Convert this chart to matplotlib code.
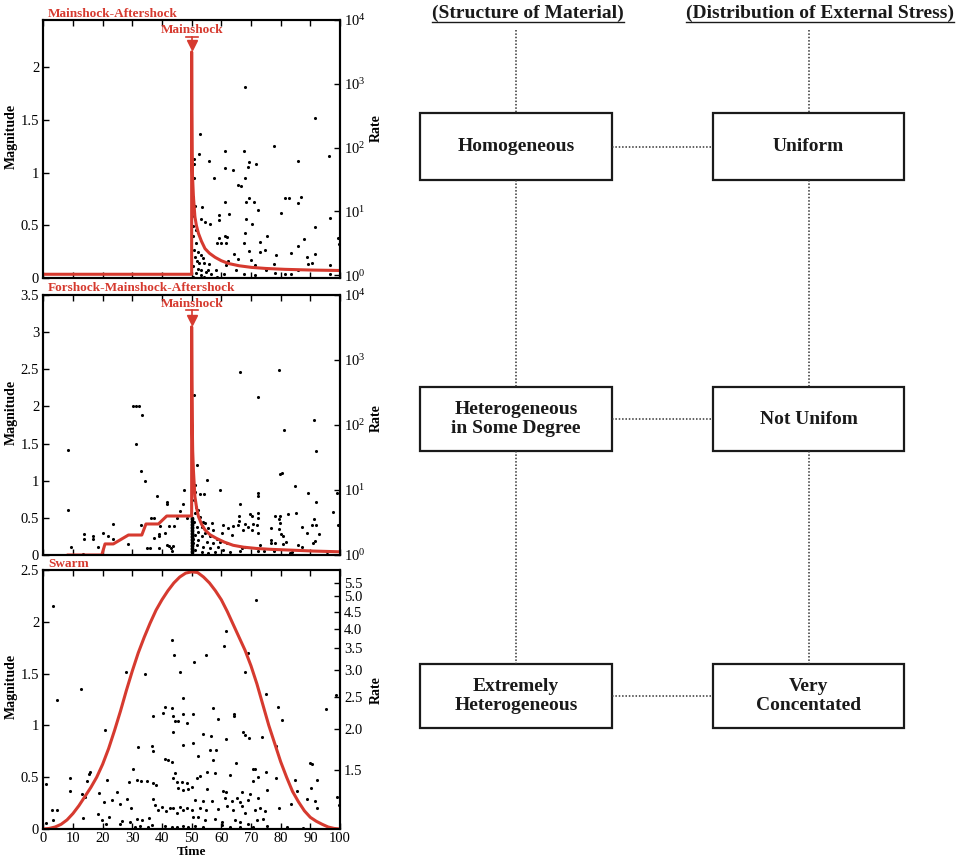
import matplotlib
matplotlib.use("Agg")
import matplotlib.pyplot as plt
import matplotlib.transforms as mtransforms
from matplotlib.patches import Rectangle
from matplotlib.ticker import NullLocator

plt.rcParams['font.family'] = ['Liberation Serif', 'DejaVu Serif']
plt.rcParams['mathtext.fontset'] = 'stix'

RED = '#d63a2f'

# ---- data ----
mainshock_t = 50

# top panel: mainshock-aftershock
top_events = [
    (68.1, 1.81), (91.5, 1.52), (52.8, 1.365), (77.6, 1.25), (61.4, 1.21), (67.8, 1.21), (96.4, 1.16),
    (52.6, 1.18), (55.7, 1.11), (85.9, 1.11), (69.3, 1.10), (71.6, 1.08), (69.0, 1.05), (61.4, 1.04),
    (64.1, 1.03), (50.9, 1.13), (50.9, 1.08), (57.4, 0.95), (67.9, 0.95), (65.5, 0.885), (66.8, 0.87),
    (50.9, 0.95), (69.4, 0.76), (81.4, 0.76), (82.8, 0.76), (86.8, 0.77), (68.3, 0.72), (71.0, 0.72),
    (61.4, 0.72), (85.7, 0.71), (72.2, 0.65), (53.4, 0.67), (80.1, 0.62), (59.2, 0.60), (62.6, 0.61),
    (96.5, 0.57), (68.4, 0.56), (59.1, 0.55), (53.1, 0.56), (54.6, 0.53), (56.3, 0.51), (70.3, 0.51),
    (91.5, 0.48), (67.9, 0.43), (75.3, 0.40), (61.4, 0.40), (61.9, 0.39), (59.2, 0.38), (99.4, 0.38),
    (88.0, 0.37), (67.8, 0.335), (73.1, 0.34), (58.4, 0.33), (60.0, 0.33), (61.6, 0.33), (85.9, 0.30),
    (99.6, 0.32), (69.4, 0.26), (74.6, 0.27), (73.2, 0.25), (83.4, 0.24), (64.2, 0.23), (78.4, 0.22),
    (91.7, 0.23), (89.0, 0.20), (65.5, 0.18), (70.1, 0.17), (62.1, 0.16), (90.7, 0.14), (89.3, 0.13),
    (96.6, 0.12), (77.9, 0.13), (61.5, 0.12), (71.2, 0.12), (65.1, 0.08), (58.2, 0.08), (75.2, 0.08),
    (85.9, 0.08), (96.7, 0.04), (83.6, 0.04), (81.4, 0.04), (78.0, 0.05), (71.4, 0.03), (67.8, 0.04),
    (61.0, 0.04), (58.7, 0.01), (50.3, 0.49), (51.4, 0.46), (50.6, 0.40), (51.4, 0.33), (50.9, 0.27),
    (52.0, 0.25), (53.0, 0.22), (51.2, 0.20), (53.8, 0.19), (51.7, 0.16), (52.5, 0.14), (54.2, 0.14),
    (50.6, 0.11), (52.2, 0.09), (53.3, 0.08), (54.8, 0.06), (51.4, 0.05), (55.6, 0.08), (56.5, 0.04),
    (53.1, 0.03), (50.3, 0.01), (54.3, 0.01), (55.9, 0.13), (50.9, 0.59), (51.1, 0.68), (50.4, 0.77),
]
top_rate_t = [0, 50.0, 50.0, 50.05, 50.15, 50.3, 50.6, 51.1, 51.6, 52.3, 53.3, 54.5, 56.0, 57.9,
              60.0, 62.4, 66.0, 70.2, 75.0, 81.5, 90.0, 100]
top_rate = [1.03, 1.03, 3160, 400, 80, 35, 17, 8.2, 6.0, 4.5, 3.4, 2.6, 2.2, 1.9,
            1.68, 1.52, 1.40, 1.32, 1.27, 1.23, 1.20, 1.18]

# middle panel: foreshock-mainshock-aftershock
mid_events = [
    (30.1, 2.0), (31.1, 2.0), (32.2, 2.0), (33.2, 1.89), (8.4, 1.42), (31.1, 1.49), (32.9, 1.13),
    (34.3, 0.99), (38.2, 0.79), (41.6, 0.71), (41.6, 0.68), (47.4, 0.88), (47.2, 0.69), (46.1, 0.59),
    (8.4, 0.61), (36.2, 0.50), (37.3, 0.50), (45.2, 0.50), (48.3, 0.50), (32.9, 0.41), (23.4, 0.42),
    (42.5, 0.39), (44.1, 0.39), (39.3, 0.39), (41.0, 0.29), (39.1, 0.28), (13.8, 0.28), (20.0, 0.29),
    (16.9, 0.25), (16.9, 0.21), (13.8, 0.21), (23.5, 0.22), (21.7, 0.25), (18.5, 0.11), (9.2, 0.11),
    (37.3, 0.23), (39.1, 0.25), (28.7, 0.15), (34.8, 0.09), (36.0, 0.09), (39.1, 0.10), (41.6, 0.14),
    (42.2, 0.12), (43.1, 0.10), (43.8, 0.12), (43.3, 0.05), (13.5, 0.01),
    (66.3, 2.47), (79.4, 2.49), (72.3, 2.13), (91.1, 1.82), (81.1, 1.68), (91.9, 1.40), (79.8, 1.09),
    (80.4, 1.10), (50.8, 2.15), (51.7, 1.21), (55.1, 1.01), (84.8, 0.93), (59.6, 0.87), (89.3, 0.84),
    (98.9, 0.84), (72.3, 0.84), (72.3, 0.79), (52.8, 0.82), (54.2, 0.82), (66.3, 0.69), (91.9, 0.72),
    (97.5, 0.58), (69.7, 0.55), (70.2, 0.53), (72.3, 0.56), (72.3, 0.50), (66.1, 0.52), (66.1, 0.46),
    (78.1, 0.52), (79.8, 0.52), (79.5, 0.49), (79.8, 0.43), (82.6, 0.55), (85.2, 0.56), (91.1, 0.49),
    (90.7, 0.41), (91.9, 0.40), (99.2, 0.40), (60.7, 0.40), (62.4, 0.36), (64.0, 0.39), (65.7, 0.40),
    (68.0, 0.42), (69.1, 0.38), (70.8, 0.42), (71.9, 0.40), (70.2, 0.33), (72.3, 0.30), (67.4, 0.33),
    (60.2, 0.29), (63.5, 0.27), (76.7, 0.36), (79.5, 0.35), (87.1, 0.38), (89.0, 0.29), (93.0, 0.28),
    (80.0, 0.28), (80.9, 0.26), (91.6, 0.19), (91.0, 0.16), (76.7, 0.20), (76.7, 0.16), (86.0, 0.14),
    (87.1, 0.11), (78.2, 0.16), (80.8, 0.15), (81.9, 0.17), (66.3, 0.05), (66.9, 0.09), (68.0, 0.11),
    (73.1, 0.13), (74.4, 0.06), (72.3, 0.05), (77.6, 0.05), (83.8, 0.04), (83.2, 0.03), (95.6, 0.04),
    (51.1, 0.94), (51.1, 0.85), (50.8, 0.74), (51.5, 0.65), (52.3, 0.61), (51.1, 0.56), (52.8, 0.51),
    (50.8, 0.45), (53.9, 0.45), (51.7, 0.38), (53.4, 0.38), (55.6, 0.36), (52.3, 0.31), (54.5, 0.29),
    (57.3, 0.34), (51.1, 0.27), (53.4, 0.25), (56.2, 0.25), (58.4, 0.22), (52.3, 0.20), (55.1, 0.18),
    (57.3, 0.16), (59.6, 0.18), (51.7, 0.135), (53.9, 0.11), (56.2, 0.09), (59.0, 0.11), (51.1, 0.07),
    (53.4, 0.045), (55.6, 0.03), (57.9, 0.045), (60.7, 0.07), (63.0, 0.045), (61.8, 0.16), (54.5, 0.425),
    (50.3, 0.16), (50.3, 0.22), (56.8, 0.425),
]
# dense stack of events right at the mainshock time
mid_stack_mag = [0.0, 0.02, 0.04, 0.06, 0.08, 0.10, 0.12, 0.14, 0.16, 0.18, 0.20, 0.22, 0.24, 0.26,
                 0.28, 0.30, 0.32, 0.34, 0.36, 0.38, 0.40, 0.42, 0.44, 0.46, 0.48, 0.50]
mid_rate_t = [8.4, 19.7, 20.8, 23.6, 28.7, 33.2, 34.6, 38.8, 41.6, 50.0, 50.0, 50.08, 50.2, 50.35,
              50.6, 51.1, 51.7, 52.3, 53.3, 54.5, 56.2, 58.4, 61.0, 64.0, 67.5, 71.9, 77.0, 83.2,
              91.0, 100]
mid_rate = [1.0, 1.0, 1.48, 1.48, 2.03, 2.03, 3.0, 3.0, 3.98, 3.98, 3240, 500, 110, 40,
            20, 7.9, 5.2, 3.9, 3.0, 2.43, 2.05, 1.80, 1.58, 1.41, 1.32, 1.26, 1.22, 1.19,
            1.15, 1.12]

# bottom panel: swarm
bot_events = [
    (3.2, 2.15), (12.6, 1.35), (4.7, 1.25), (27.9, 1.52), (34.2, 1.50), (43.5, 1.82), (44.1, 1.68),
    (50.8, 1.61), (46.0, 1.52), (47.1, 1.26), (41.0, 1.18), (43.3, 1.17), (50.4, 1.11),
    (61.6, 1.91), (60.9, 1.77), (54.8, 1.68), (68.9, 1.70), (68.0, 1.52), (71.6, 2.21), (75.0, 1.30),
    (98.5, 1.29), (79.2, 1.18), (57.1, 1.17), (95.2, 1.16), (64.4, 1.11),
    (20.8, 0.96), (37.1, 1.09), (40.5, 1.12), (43.6, 1.09), (44.4, 1.04), (45.5, 1.04), (47.2, 1.11),
    (48.3, 1.02), (43.6, 0.94), (47.2, 0.81), (50.6, 0.83), (31.8, 0.79), (30.1, 0.58), (36.5, 0.80),
    (36.9, 0.75), (41.0, 0.68), (42.1, 0.67), (43.3, 0.65), (15.7, 0.55), (15.5, 0.53), (14.6, 0.46),
    (9.0, 0.49), (9.0, 0.37), (13.0, 0.34), (14.1, 0.31), (21.6, 0.47), (29.0, 0.45), (31.7, 0.47),
    (32.9, 0.46), (34.8, 0.46), (37.1, 0.44), (38.0, 0.42), (44.4, 0.54), (43.8, 0.49), (45.0, 0.45),
    (45.5, 0.40), (46.6, 0.45), (47.0, 0.38), (48.3, 0.44), (48.9, 0.39), (50.0, 0.41), (24.7, 0.36),
    (28.1, 0.29), (18.8, 0.35), (20.5, 0.26), (23.3, 0.28), (25.8, 0.24), (2.8, 0.18), (4.5, 0.18),
    (0.9, 0.43), (3.4, 0.09), (0.9, 0.06), (13.3, 0.11), (18.6, 0.14), (19.7, 0.09), (22.3, 0.12),
    (21.1, 0.05), (26.4, 0.08), (29.5, 0.20), (31.5, 0.10), (33.2, 0.09), (35.7, 0.11), (36.5, 0.04),
    (37.1, 0.29), (37.7, 0.23), (38.8, 0.18), (39.9, 0.21), (41.4, 0.17), (42.7, 0.20), (43.8, 0.20),
    (45.0, 0.15), (46.1, 0.21), (47.2, 0.18), (48.3, 0.20), (50.0, 0.18), (50.6, 0.12), (30.9, 0.02),
    (32.6, 0.03), (35.4, 0.02), (41.0, 0.03), (43.3, 0.02), (45.0, 0.02), (47.2, 0.03), (48.9, 0.02),
    (25.8, 0.05), (29.2, 0.07),
    (64.3, 1.09), (80.3, 1.05), (59.0, 1.06), (53.9, 0.92), (56.5, 0.90), (61.5, 0.87), (67.4, 0.94),
    (68.0, 0.91), (69.4, 0.88), (73.6, 0.89), (78.4, 0.80), (52.3, 0.70), (56.2, 0.76), (58.2, 0.76),
    (57.3, 0.67), (65.0, 0.64), (89.9, 0.64), (90.5, 0.63), (51.7, 0.49), (52.8, 0.51), (55.1, 0.55),
    (57.9, 0.54), (62.9, 0.52), (70.8, 0.58), (71.3, 0.58), (70.6, 0.46), (75.1, 0.55), (72.5, 0.50),
    (78.4, 0.49), (84.8, 0.47), (92.4, 0.47), (90.1, 0.40), (85.4, 0.37), (55.3, 0.39), (60.7, 0.37),
    (61.6, 0.36), (66.9, 0.36), (69.7, 0.34), (75.3, 0.38), (51.1, 0.28), (53.9, 0.27), (56.8, 0.27),
    (61.3, 0.30), (63.5, 0.27), (65.2, 0.30), (66.3, 0.26), (69.1, 0.28), (72.5, 0.30), (88.8, 0.29),
    (91.6, 0.27), (99.0, 0.31), (99.6, 0.23), (83.5, 0.24), (79.6, 0.20), (92.1, 0.20), (52.8, 0.20),
    (54.8, 0.18), (58.8, 0.19), (61.8, 0.22), (64.1, 0.18), (66.9, 0.22), (68.0, 0.15), (71.3, 0.18),
    (73.0, 0.20), (74.7, 0.17), (52.3, 0.12), (54.5, 0.09), (57.9, 0.10), (60.1, 0.07), (64.6, 0.09),
    (66.3, 0.07), (69.1, 0.05), (71.9, 0.09), (74.1, 0.10), (75.3, 0.03), (51.1, 0.03), (53.9, 0.02),
    (60.1, 0.04), (62.9, 0.02), (66.3, 0.02), (70.8, 0.02), (82.0, 0.02), (87.6, 0.01),
]
bot_rate_t = [0, 2, 4, 6, 8, 10, 12, 14, 16, 18, 20, 22, 24, 26, 28, 30, 32, 34, 36, 38, 40, 42, 44,
              46, 48, 50, 52, 54, 56, 58, 60, 62, 64, 66, 68, 70, 72, 74, 76, 78, 80, 82, 84, 86,
              88, 90, 92, 94, 96, 98, 100]
bot_rate = [1.0, 1.004, 1.014, 1.033, 1.065, 1.113, 1.175, 1.251, 1.332, 1.431, 1.565, 1.743,
            1.976, 2.259, 2.608, 2.984, 3.382, 3.765, 4.155, 4.545, 4.884, 5.199, 5.486, 5.717,
            5.873, 5.925, 5.897, 5.717, 5.486, 5.199, 4.884, 4.505, 4.118, 3.765, 3.443, 3.092,
            2.728, 2.363, 2.048, 1.806, 1.593, 1.431, 1.297, 1.207, 1.134, 1.084, 1.055, 1.033,
            1.014, 1.004, 1.0]
swarm_rate_ticks = [1.5, 2.0, 2.5, 3.0, 3.5, 4.0, 4.5, 5.0, 5.5]

# right-hand diagram
headers = ['(Structure of Material)', '(Distribution of External Stress)']
material = ['Homogeneous', 'Heterogeneous\nin Some Degree', 'Extremely\nHeterogeneous']
stress = ['Uniform', 'Not Unifom', 'Very\nConcentated']

# ---- figure ----
W, H = 957, 856
fig = plt.figure(figsize=(W / 100, H / 100), dpi=100)


def px_axes(left, top, right, bottom):
    return fig.add_axes([left / W, 1 - bottom / H, (right - left) / W, (bottom - top) / H])


def style(ax, ax2):
    for a in (ax, ax2):
        for s in a.spines.values():
            s.set_linewidth(1.5)
    ax.tick_params(direction='in', top=True, length=4, width=1, labelsize=10.5, pad=3)
    ax2.tick_params(direction='in', length=4, width=1, labelsize=10.5, pad=3)
    ax2.yaxis.set_minor_locator(NullLocator())
    ax.set_xlim(0, 100)
    ax.set_xticks(range(0, 101, 10))
    ax.set_ylabel('Magnitude', fontweight='bold', fontsize=10)
    ax.yaxis.set_label_coords(-0.085, 0.55)


def mark_mainshock(ax, y_text, y_bar, y_tri):
    tr = mtransforms.blended_transform_factory(ax.transData, ax.transAxes)
    ax.text(mainshock_t, y_text, 'Mainshock', transform=tr, ha='center', va='center',
            color=RED, fontweight='bold', fontsize=9.5)
    ax.plot([mainshock_t - 2, mainshock_t + 2], [y_bar, y_bar], transform=tr, color=RED, lw=1.2,
            clip_on=False)
    ax.plot([mainshock_t, mainshock_t], [y_bar, y_tri], transform=tr, color=RED, lw=1.2, clip_on=False)
    ax.plot([mainshock_t], [y_tri], 'v', transform=tr, color=RED, ms=7, clip_on=False)


def title(ax, text, y):
    ax.text(0.016, y, text, transform=ax.transAxes, color=RED, fontweight='bold', fontsize=9.5,
            ha='left', va='center')


# top panel
ax_t = px_axes(43.3, 20, 340, 278)
ax_t2 = ax_t.twinx()
ax_t.scatter([e[0] for e in top_events], [e[1] for e in top_events], s=5, c='black', lw=0)
ax_t2.plot(top_rate_t, top_rate, color=RED, lw=2.2)
ax_t.set_ylim(0, 2.45)
ax_t.set_yticks([0, 0.5, 1, 1.5, 2])
ax_t.set_yticklabels(['0', '0.5', '1', '1.5', '2'])
ax_t2.set_yscale('log')
ax_t2.set_ylim(0.9, 1e4)
ax_t2.set_yticks([1, 10, 100, 1000, 10000])
style(ax_t, ax_t2)
ax_t.tick_params(labelbottom=False)
ax_t2.set_ylabel('Rate', fontweight='bold', fontsize=10, rotation=90)
ax_t2.yaxis.set_label_coords(1.1, 0.58)
title(ax_t, 'Mainshock-Aftershock', 1.023)
mark_mainshock(ax_t, 0.962, 0.934, 0.905)

# middle panel
ax_m = px_axes(43.3, 295, 340, 555)
ax_m2 = ax_m.twinx()
ax_m.scatter([e[0] for e in mid_events], [e[1] for e in mid_events], s=5, c='black', lw=0)
ax_m.scatter([mainshock_t] * len(mid_stack_mag), mid_stack_mag, s=7, c='black', lw=0)
ax_m2.plot(mid_rate_t, mid_rate, color=RED, lw=2.2)
ax_m.set_ylim(0, 3.5)
ax_m.set_yticks([0, 0.5, 1, 1.5, 2, 2.5, 3, 3.5])
ax_m.set_yticklabels(['0', '0.5', '1', '1.5', '2', '2.5', '3', '3.5'])
ax_m2.set_yscale('log')
ax_m2.set_ylim(1, 1e4)
ax_m2.set_yticks([1, 10, 100, 1000, 10000])
style(ax_m, ax_m2)
ax_m.tick_params(labelbottom=False)
ax_m2.set_ylabel('Rate', fontweight='bold', fontsize=10, rotation=90)
ax_m2.yaxis.set_label_coords(1.1, 0.527)
title(ax_m, 'Forshock-Mainshock-Aftershock', 1.026)
mark_mainshock(ax_m, 0.965, 0.942, 0.904)

# bottom panel
ax_b = px_axes(43.3, 570, 340, 829)
ax_b2 = ax_b.twinx()
ax_b.scatter([e[0] for e in bot_events], [e[1] for e in bot_events], s=5, c='black', lw=0)
ax_b2.plot(bot_rate_t, bot_rate, color=RED, lw=2.2)
ax_b.set_ylim(0, 2.5)
ax_b.set_yticks([0, 0.5, 1, 1.5, 2, 2.5])
ax_b.set_yticklabels(['0', '0.5', '1', '1.5', '2', '2.5'])
ax_b2.set_yscale('log')
ax_b2.set_ylim(1, 6.0)
ax_b2.set_yticks(swarm_rate_ticks)
ax_b2.set_yticklabels(['%.1f' % v for v in swarm_rate_ticks])
style(ax_b, ax_b2)
ax_b.tick_params(axis='x', pad=2)
ax_b.set_xlabel('Time', fontweight='bold', fontsize=9.5)
ax_b.xaxis.set_label_coords(0.5, -0.065)
ax_b2.set_ylabel('Rate', fontweight='bold', fontsize=10, rotation=90)
ax_b2.yaxis.set_label_coords(1.1, 0.537)
title(ax_b, 'Swarm', 1.023)

# ---- diagram on the right, in figure pixels ----
dax = fig.add_axes([0, 0, 1, 1], zorder=-1)
dax.set_xlim(0, W)
dax.set_ylim(H, 0)
dax.axis('off')

col_x = [(420, 612), (713, 904)]
row_y = [(113, 180), (387, 451), (664, 728)]
header_cx = [528, 820]
dot = dict(color='#333333', lw=1.1, ls=(0, (1, 1.2)))

for j, labels in enumerate([material, stress]):
    x0, x1 = col_x[j]
    cx = (x0 + x1) / 2
    dax.plot([cx, cx], [30, row_y[0][0]], **dot)
    for i, lab in enumerate(labels):
        y0, y1 = row_y[i]
        dax.add_patch(Rectangle((x0, y0), x1 - x0, y1 - y0, fill=False, lw=1.6, ec='#1a1a1a'))
        dax.text(cx, (y0 + y1) / 2, lab, ha='center', va='center', fontweight='bold',
                 fontsize=14, linespacing=1.15, color='#1a1a1a')
        if i < len(labels) - 1:
            dax.plot([cx, cx], [y1, row_y[i + 1][0]], **dot)

for y0, y1 in row_y:
    dax.plot([col_x[0][1], col_x[1][0]], [(y0 + y1) / 2] * 2, **dot)

header_texts = []
for hx, h in zip(header_cx, headers):
    header_texts.append(dax.text(hx, 13, h, ha='center', va='center', fontweight='bold',
                                 fontsize=14, color='#1a1a1a'))

fig.canvas.draw()
for t in header_texts:
    bb = t.get_window_extent()
    dax.plot([bb.x0, bb.x1], [21.5, 21.5], color='#1a1a1a', lw=1.0)

fig.savefig('out.png', dpi=100)
